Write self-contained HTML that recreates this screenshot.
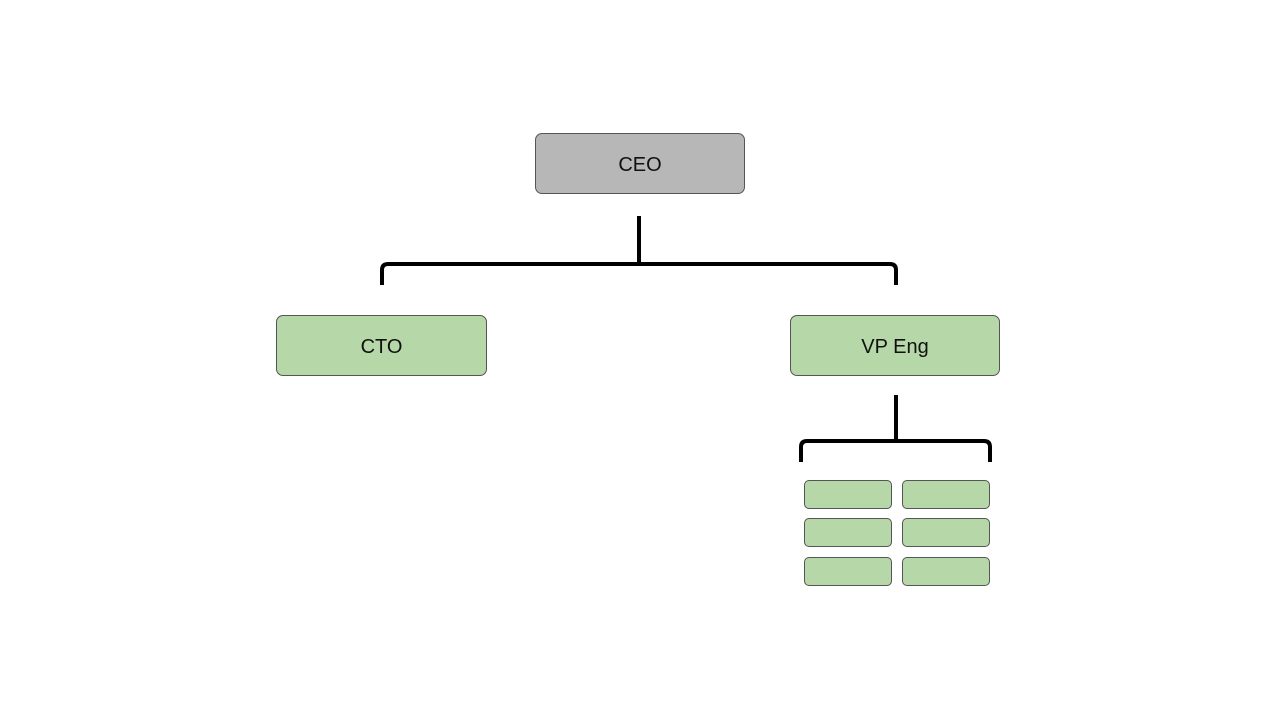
<!DOCTYPE html>
<html><head><style>
body{margin:0;width:1280px;height:720px;background:#fff;position:relative;overflow:hidden;font-family:"Liberation Sans",sans-serif}
.b{position:absolute;box-sizing:border-box;border:1px solid #555;border-radius:7px;display:flex;align-items:center;justify-content:center;font-size:20px;color:#111;padding-top:3px}
.g{background:#b6d7a8}
.s{border-radius:5px}
</style></head><body>
<div class="b" style="left:535px;top:133px;width:210px;height:61px;background:#b7b7b7">CEO</div>
<div class="b g" style="left:276px;top:315px;width:211px;height:61px">CTO</div>
<div class="b g" style="left:790px;top:315px;width:210px;height:61px">VP Eng</div>
<div class="b g s" style="left:804px;top:480px;width:88px;height:29px"></div>
<div class="b g s" style="left:902px;top:480px;width:88px;height:29px"></div>
<div class="b g s" style="left:804px;top:518px;width:88px;height:29px"></div>
<div class="b g s" style="left:902px;top:518px;width:88px;height:29px"></div>
<div class="b g s" style="left:804px;top:557px;width:88px;height:29px"></div>
<div class="b g s" style="left:902px;top:557px;width:88px;height:29px"></div>
<svg width="1280" height="720" style="position:absolute;left:0;top:0" fill="none" stroke="#000" stroke-width="4">
<path d="M639 216V264"/>
<path d="M382 285V270Q382 264 388 264H890Q896 264 896 270V285"/>
<path d="M896 395V441"/>
<path d="M801 462V447Q801 441 807 441H984Q990 441 990 447V462"/>
</svg>
</body></html>
